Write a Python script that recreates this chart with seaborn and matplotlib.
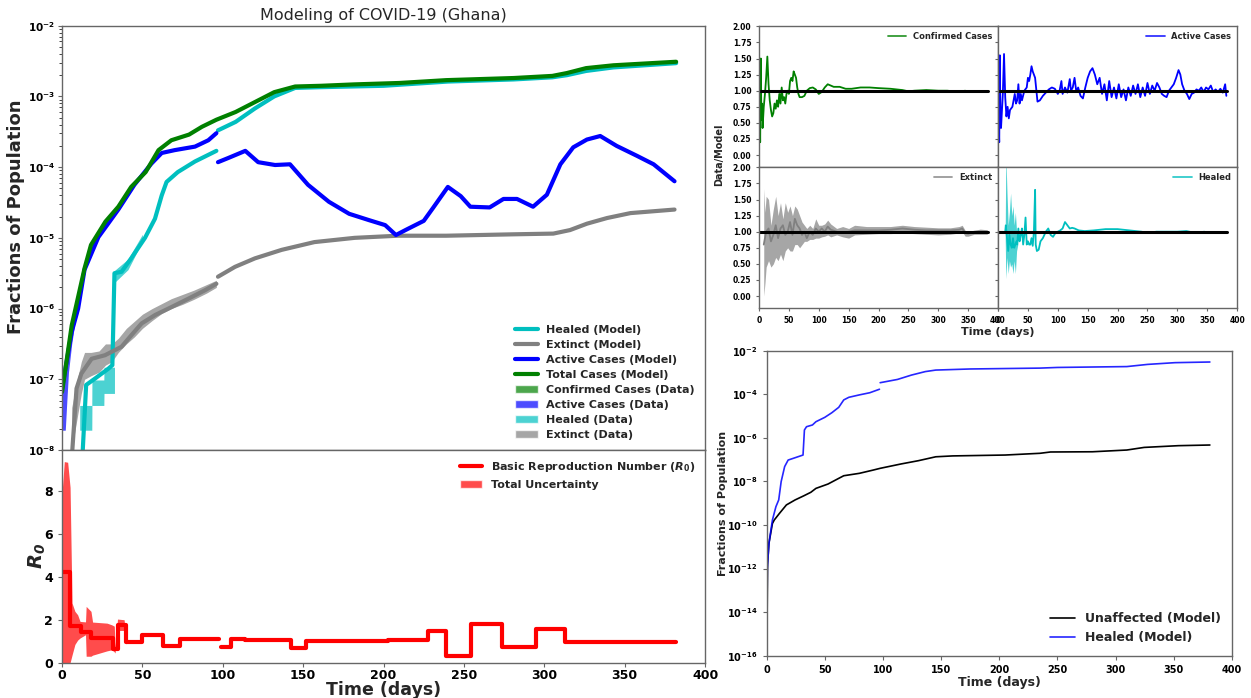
import numpy as np
import pandas as pd
import matplotlib
matplotlib.use("Agg")
import matplotlib.pyplot as plt
import matplotlib.ticker as mticker
from matplotlib.lines import Line2D
from matplotlib.patches import Patch
import seaborn as sns

sns.set_style("ticks")
plt.rcParams['font.family'] = ['DejaVu Sans']
plt.rcParams['font.weight'] = 'bold'
plt.rcParams['axes.labelweight'] = 'bold'
plt.rcParams['mathtext.fontset'] = 'dejavusans'

# ---------------- main panel (log10 of population fraction) ----------------
total_days = [0, 6, 14, 18, 27, 35, 43, 52, 60, 68, 79, 87, 96, 108, 120, 132, 145, 161, 182, 210,
              239, 281, 305, 314, 326, 343, 382]
total_log = [-7.18, -6.24, -5.43, -5.1, -4.77, -4.56, -4.28, -4.07, -3.76, -3.62, -3.54, -3.43, -3.33,
             -3.22, -3.08, -2.94, -2.86, -2.85, -2.83, -2.81, -2.77, -2.74, -2.71, -2.67, -2.6, -2.56, -2.51]

heal1_days = [11.5, 15, 20.5, 28.8, 31.3, 32.6, 37, 43, 51.6, 57.8, 62, 65, 72, 82.7, 96]
heal1_log = [-8.6, -7.08, -6.99, -6.85, -6.8, -5.5, -5.48, -5.29, -5.0, -4.73, -4.4, -4.21, -4.07, -3.92, -3.77]
heal2_days = [97, 108, 120, 132, 145, 160, 200, 240, 281, 305, 314, 326, 343, 382]
heal2_log = [-3.48, -3.36, -3.17, -3.0, -2.88, -2.87, -2.85, -2.79, -2.76, -2.73, -2.7, -2.64, -2.59, -2.53]

active1_days = [0, 6, 10, 14, 22.6, 35, 45, 55.6, 62, 70, 82.7, 91, 96]
active1_log = [-7.13, -6.33, -6.0, -5.45, -4.99, -4.6, -4.25, -3.95, -3.8, -3.76, -3.71, -3.62, -3.52]
active2_days = [97, 103.5, 114, 122, 132.5, 141.8, 153, 166, 178.6, 191, 201, 207.7, 214.5, 225, 231,
                240, 248, 254, 266, 274.6, 283, 293, 301.6, 310, 318, 326.5, 334.8, 345, 357.6, 368, 381]
active2_log = [-3.93, -3.87, -3.77, -3.93, -3.97, -3.96, -4.25, -4.49, -4.66, -4.75, -4.82, -4.96, -4.88,
               -4.76, -4.57, -4.28, -4.41, -4.56, -4.57, -4.45, -4.45, -4.56, -4.39, -3.96, -3.72, -3.61,
               -3.56, -3.7, -3.84, -3.96, -4.2]

ext1_days = [5.5, 9, 12, 18.4, 26.7, 37, 43, 49.5, 58, 68, 78.6, 89, 96]
ext1_log = [-8.3, -7.13, -6.92, -6.71, -6.66, -6.54, -6.38, -6.21, -6.09, -5.98, -5.86, -5.74, -5.65]
ext2_days = [97, 107.6, 120, 136.6, 157, 182, 209, 239, 281, 305.6, 316, 326.5, 339, 353.6, 381]
ext2_log = [-5.55, -5.41, -5.29, -5.17, -5.06, -5.0, -4.97, -4.97, -4.95, -4.94, -4.89, -4.8, -4.72, -4.65, -4.6]

# data uncertainty bands (log10)
act_band_days = [0, 1, 2, 3, 4, 6, 8, 10]
act_band_lo = [-7.72, -7.72, -7.72, -7.3, -6.9, -6.5, -6.2, -6.05]
act_band_hi = [-6.94, -6.94, -6.94, -6.8, -6.6, -6.3, -6.1, -5.95]
heal_band_days = [11, 18.5, 18.6, 26, 26.1, 32.6, 32.7, 41, 50]
heal_band_lo = [-7.72, -7.72, -7.37, -7.37, -7.2, -7.2, -5.63, -5.45, -5.05]
heal_band_hi = [-7.37, -7.37, -7.01, -7.01, -6.83, -6.83, -5.46, -5.3, -4.95]
ext_band_days = [6, 9, 12, 14, 18, 23, 27, 31, 35, 40, 45, 50, 56, 62, 68, 75, 82, 90, 96]
ext_band_lo = [-8.0, -7.6, -7.2, -7.0, -6.95, -6.9, -6.8, -6.75, -6.62, -6.5, -6.4, -6.28, -6.17, -6.07,
               -6.0, -5.94, -5.87, -5.78, -5.7]
ext_band_hi = [-7.4, -7.05, -6.75, -6.62, -6.62, -6.6, -6.5, -6.5, -6.42, -6.28, -6.18, -6.08, -6.0, -5.93,
               -5.86, -5.8, -5.74, -5.66, -5.6]

# ---------------- R0 ----------------
r0_days1 = [0, 5.2, 11.8, 18, 32, 34.8, 39.5, 49.5, 62.5, 73.5, 97.5]
r0_vals1 = [4.2, 1.7, 1.45, 1.14, 0.62, 1.76, 0.96, 1.29, 0.77, 1.12, 1.12]
r0_days2 = [99, 105, 114, 142.5, 152, 203, 227.5, 239, 254.5, 273.5, 295, 313, 345, 382]
r0_vals2 = [0.72, 1.1, 1.04, 0.7, 1.02, 1.05, 1.47, 0.31, 1.82, 0.71, 1.57, 0.94, 0.98, 0.98]
r0_band_days = [0, 1.4, 3.5, 5, 6.2, 8, 9.7, 11.2, 14.6, 15, 18, 19, 28, 31, 32.5, 33, 34.5, 38.6, 40]
r0_band_hi = [7.9, 9.36, 9.33, 8.16, 2.78, 2.39, 2.23, 1.92, 1.9, 2.62, 2.39, 1.89, 1.84, 1.76, 1.7, 0.75,
              2.03, 2.0, 1.06]
r0_band_lo = [0.0, 0.0, 0.0, 0.0, 0.35, 0.85, 1.05, 1.15, 1.3, 0.3, 0.3, 0.35, 0.55, 0.6, 0.5, 0.45,
              1.5, 1.5, 0.85]

# ---------------- Data/Model ratios ----------------
conf_days = [0, 1, 2, 3, 4, 5, 6, 8, 10, 12, 14, 16, 18, 20, 22, 24, 26, 28, 30, 32, 34, 36, 38, 40, 42,
             44, 46, 48, 50, 52, 54, 56, 58, 60, 62, 64, 66, 68, 72, 76, 80, 85, 90, 95, 100, 105, 110,
             115, 120, 125, 135, 145, 155, 170, 185, 200, 220, 240, 250, 260, 280, 300, 315, 325, 335, 345]
conf_ratio = [1.65, 0.9, 0.2, 1.5, 0.55, 0.8, 0.42, 0.75, 0.95, 1.2, 1.53, 1.1, 0.85, 0.7, 0.6, 0.65, 0.8,
              0.72, 0.85, 0.75, 0.95, 0.8, 1.05, 0.85, 0.9, 0.8, 0.95, 1.0, 0.95, 1.15, 1.2, 1.15, 1.3,
              1.25, 1.2, 1.05, 0.95, 0.9, 0.9, 0.92, 1.0, 1.04, 1.05, 1.02, 0.95, 0.98, 1.05, 1.1, 1.08,
              1.06, 1.06, 1.03, 1.03, 1.05, 1.05, 1.04, 1.03, 1.01, 0.99, 1.0, 1.01, 1.0, 1.0, 0.99, 0.98, 1.0]

act_days = [0, 1, 2, 3, 4, 5, 6, 8, 10, 12, 14, 16, 18, 20, 24, 28, 30, 32, 34, 36, 38, 40, 44, 48, 50,
            52, 54, 56, 58, 60, 62, 66, 70, 75, 80, 85, 90, 95, 100, 103, 106, 108, 112, 116, 120, 122,
            125, 128, 131, 134, 138, 142, 146, 150, 154, 158, 162, 166, 170, 174, 178, 182, 186, 190,
            194, 198, 202, 206, 210, 214, 218, 222, 226, 230, 234, 238, 242, 246, 250, 254, 258, 262,
            266, 270, 274, 278, 282, 286, 290, 294, 298, 302, 305, 308, 312, 316, 320, 324, 328, 332,
            336, 340, 344, 348, 352, 356, 360, 364, 368, 372, 376, 380, 382]
act_ratio = [1.65, 0.5, 0.2, 1.55, 0.5, 0.42, 0.6, 0.95, 1.57, 0.9,
             0.6, 0.75, 0.57, 0.7, 0.75, 0.95, 0.8, 0.85, 1.1, 0.8,
             0.95, 0.85, 1.0, 1.05, 1.2, 1.15, 1.25, 1.38, 1.3, 1.25,
             1.2, 0.83, 0.85, 0.92, 0.97, 1.02, 1.05, 1.03, 0.95, 1.0,
             1.15, 0.95, 1.05, 0.97, 1.18, 1.0, 1.05, 1.2, 0.98, 1.05,
             0.92, 0.88, 1.05, 1.2, 1.3, 1.35, 1.25, 1.1, 1.2, 0.95,
             1.1, 0.85, 1.15, 0.9, 1.05, 0.88, 1.1, 0.9, 1.02, 0.85,
             1.05, 0.92, 1.08, 0.95, 1.1, 0.9, 1.05, 0.92, 1.12, 0.95,
             1.08, 1.0, 1.12, 1.05, 0.95, 0.92, 0.9, 1.0, 1.05, 1.1,
             1.2, 1.32, 1.25, 1.1, 1.0, 0.95, 0.87, 0.95, 0.97, 1.02,
             1.0, 1.05, 0.98, 1.05, 1.02, 1.08, 0.98, 1.02, 0.98, 1.03,
             0.97, 1.1, 0.92]

ext_days = [8, 10, 12, 16, 20, 24, 28, 32, 36, 40, 44, 48, 52, 56, 60, 64, 68, 72, 76, 80, 85, 90, 95,
            100, 105, 110, 115, 120, 130, 140, 150, 160, 180, 200, 220, 240, 260, 280, 300, 320, 335,
            340, 345, 350, 360, 370, 382]
ext_mid = [0.8, 0.9, 1.0, 1.05, 0.85, 0.95, 1.1, 0.9, 1.05, 1.1, 0.95, 1.0, 1.15, 0.95, 1.2, 1.1, 1.05,
           0.95, 1.0, 0.9, 1.0, 0.95, 1.05, 1.0, 1.05, 1.0, 1.08, 1.03, 1.0, 0.98, 1.0, 1.02, 1.02, 1.02,
           1.03, 1.05, 1.03, 1.02, 1.02, 1.02, 1.03, 1.05, 0.98, 0.97, 1.0, 1.0, 1.0]
ext_lo = [0.0, 0.2, 0.45, 0.55, 0.45, 0.5, 0.6, 0.55, 0.65, 0.55, 0.7, 0.75, 0.7, 0.7, 0.8, 0.8, 0.75,
          0.8, 0.85, 0.85, 0.88, 0.88, 0.9, 0.9, 0.92, 0.93, 0.95, 0.92, 0.95, 0.92, 0.9, 0.95, 0.96,
          0.97, 0.97, 0.98, 0.97, 0.96, 0.95, 0.96, 0.98, 1.0, 0.93, 0.93, 0.96, 0.96, 0.96]
ext_hi = [1.67, 1.3, 1.55, 1.5, 1.1, 1.35, 1.55, 1.25, 1.45, 1.2, 1.45, 1.3, 1.4, 1.25, 1.4, 1.35, 1.25,
          1.15, 1.1, 1.05, 1.1, 1.05, 1.2, 1.1, 1.1, 1.12, 1.18, 1.12, 1.05, 1.08, 1.05, 1.1, 1.08, 1.08,
          1.08, 1.1, 1.08, 1.07, 1.06, 1.06, 1.08, 1.1, 1.02, 1.0, 1.02, 1.04, 1.03]

healr_days = [12, 13, 15, 17, 19, 21, 23, 25, 27, 29, 31, 32, 34, 36, 38, 40, 42, 44, 46, 48, 50, 52, 54,
              56, 58, 60, 62, 63, 65, 68, 71, 75, 80, 84, 88, 92, 96, 100, 104, 108, 112, 116, 120, 124,
              128, 135, 145, 160, 180, 200, 220, 240, 250, 265, 280, 300, 315, 325, 335, 345]
healr_ratio = [1.0, 1.1, 0.9, 0.7, 0.95, 0.8, 0.75, 0.9, 0.75, 0.8, 0.85, 0.8, 1.05, 0.85, 0.95, 1.05,
               0.8, 0.95, 1.22, 0.8, 0.85, 0.8, 0.8, 0.9, 0.78, 1.0, 1.65, 0.8, 0.7, 0.72, 0.85, 0.9, 1.0,
               1.05, 0.95, 0.92, 0.98, 1.0, 1.02, 1.05, 1.15, 1.1, 1.05, 1.06, 1.05, 1.02, 1.01, 1.02,
               1.04, 1.04, 1.02, 1.0, 0.98, 1.0, 1.0, 1.0, 1.01, 0.99, 0.98, 1.0]
healr_band_days = [12, 13, 15, 17, 19, 21, 23, 25, 27, 29, 31, 33]
healr_band_lo = [0.9, 0.27, 0.6, 0.35, 0.55, 0.45, 0.5, 0.35, 0.55, 0.35, 0.7, 0.8]
healr_band_hi = [1.0, 2.2, 1.6, 1.1, 1.3, 1.6, 1.25, 1.4, 1.1, 1.3, 1.0, 1.0]

# ---------------- bottom-right panel (log10) ----------------
br_heal1_days = [0, 0.6, 2, 5, 8, 10.4, 12.5, 15.5, 18.5, 23, 31.3, 32.5, 34.3, 39.4, 42.4, 50, 56, 62,
                 66.3, 70.7, 79.7, 88.7, 97]
br_heal1_log = [-17, -12, -10.84, -9.77, -9.16, -8.85, -8.01, -7.32, -7.02, -6.94, -6.79, -5.64, -5.49,
                -5.41, -5.26, -5.06, -4.85, -4.6, -4.26, -4.14, -4.03, -3.93, -3.77]
br_heal2_days = [97.6, 112.5, 124.5, 136.4, 145.4, 175, 235, 250, 309.6, 327.5, 351, 381]
br_heal2_log = [-3.47, -3.32, -3.12, -2.96, -2.89, -2.84, -2.8, -2.77, -2.73, -2.63, -2.55, -2.52]
br_unaff_days = [0, 0.8, 2, 5, 6.6, 11, 17, 24.5, 32, 38, 42.4, 52.8, 62, 66.3, 79.7, 91.6, 97.6, 115.5,
                 130.4, 145.4, 160, 205, 235, 244, 280, 309.6, 324.5, 354, 381]
br_unaff_log = [-17, -11.8, -10.84, -9.93, -9.77, -9.47, -9.08, -8.85, -8.66, -8.5, -8.32, -8.12, -7.86,
                -7.74, -7.63, -7.48, -7.4, -7.2, -7.05, -6.87, -6.83, -6.79, -6.71, -6.65, -6.64, -6.56,
                -6.44, -6.36, -6.33]

EDGE = '#666666'


def draw(ax, days, vals, **kw):
    sns.lineplot(x=days, y=vals, ax=ax, estimator=None, sort=False, legend=False, **kw)


def pw(v):
    return 10.0 ** np.array(v)


def logfmt(v, pos):
    return r'$\mathbf{10^{%d}}$' % int(round(np.log10(v)))


def style(ax, size):
    for s in ax.spines.values():
        s.set_color(EDGE)
        s.set_linewidth(1.0)
    ax.tick_params(labelsize=size, colors='black', length=3, width=0.8)
    ax.tick_params(axis='both', color=EDGE)


fig = plt.figure(figsize=(12.51, 6.98), dpi=100)

# ---------- main top panel ----------
ax = fig.add_axes([0.0496, 0.3553, 0.514, 0.6079])
ax.set_yscale('log')
ax.fill_between(act_band_days, pw(act_band_lo), pw(act_band_hi), color='blue', alpha=0.7, lw=0)
ax.fill_between(heal_band_days, pw(heal_band_lo), pw(heal_band_hi), color='c', alpha=0.7, lw=0)
ax.fill_between(ext_band_days, pw(ext_band_lo), pw(ext_band_hi), color='gray', alpha=0.7, lw=0)
draw(ax, heal1_days, pw(heal1_log), color='c', lw=3)
draw(ax, heal2_days, pw(heal2_log), color='c', lw=3)
draw(ax, ext1_days, pw(ext1_log), color='gray', lw=3)
draw(ax, ext2_days, pw(ext2_log), color='gray', lw=3)
draw(ax, active1_days, pw(active1_log), color='blue', lw=3)
draw(ax, active2_days, pw(active2_log), color='blue', lw=3)
draw(ax, total_days, pw(total_log), color='green', lw=3)
ax.set_xlim(0, 400)
ax.set_ylim(1e-8, 1e-2)
ax.yaxis.set_major_formatter(mticker.FuncFormatter(logfmt))
ax.tick_params(axis='x', bottom=False, labelbottom=False)
style(ax, 7.5)
ax.tick_params(axis='y', pad=2)
ax.set_ylabel('Fractions of Population', fontsize=13)
ax.yaxis.set_label_coords(-0.058, 0.55)
ax.set_xlabel('')
ax.set_title('Modeling of COVID-19 (Ghana)', fontsize=11.5, fontweight='normal', pad=4)
handles = [Line2D([], [], color='c', lw=3, label='Healed (Model)'),
           Line2D([], [], color='gray', lw=3, label='Extinct (Model)'),
           Line2D([], [], color='blue', lw=3, label='Active Cases (Model)'),
           Line2D([], [], color='green', lw=3, label='Total Cases (Model)'),
           Patch(facecolor='green', alpha=0.7, label='Confirmed Cases (Data)'),
           Patch(facecolor='blue', alpha=0.7, label='Active Cases (Data)'),
           Patch(facecolor='c', alpha=0.7, label='Healed (Data)'),
           Patch(facecolor='gray', alpha=0.7, label='Extinct (Data)')]
ax.legend(handles=handles, loc='lower right', frameon=False, fontsize=8, labelspacing=0.45)

# ---------- R0 panel ----------
ax = fig.add_axes([0.0496, 0.0506, 0.514, 0.3047])
ax.fill_between(r0_band_days, r0_band_lo, r0_band_hi, color='red', alpha=0.7, lw=0)
r0 = pd.DataFrame({'day': r0_days1 + r0_days2, 'R0': r0_vals1 + r0_vals2,
                   'seg': [1] * len(r0_days1) + [2] * len(r0_days2)})
sns.lineplot(data=r0, x='day', y='R0', units='seg', estimator=None, ax=ax, color='red', lw=3,
             drawstyle='steps-post', legend=False)
ax.set_xlim(0, 400)
ax.set_ylim(0, 9.9)
ax.set_xticks(range(0, 401, 50))
ax.set_yticks([0, 2, 4, 6, 8])
style(ax, 9)
ax.tick_params(axis='x', pad=1.5)
ax.set_xlabel('Time (days)', fontsize=12.5, labelpad=-1)
ax.set_ylabel(r'$\mathbfit{R_0}$', fontsize=14)
ax.yaxis.set_label_coords(-0.022, 0.5)
ax.legend(handles=[Line2D([], [], color='red', lw=3, label=r'Basic Reproduction Number ($R_0$)'),
                   Patch(facecolor='red', alpha=0.7, label='Total Uncertainty')],
          loc='upper right', frameon=False, fontsize=8)

# ---------- Data/Model grid ----------
L, W, B1, B2, H = 0.6067, 0.1911, 0.5583, 0.7603, 0.202
panels = [
    ([L, B2, W, H], conf_days, conf_ratio, 'green', 'Confirmed Cases', None),
    ([L + W, B2, W, H], act_days, act_ratio, 'blue', 'Active Cases', None),
    ([L, B1, W, H], ext_days, ext_mid, 'gray', 'Extinct', (ext_days, ext_lo, ext_hi)),
    ([L + W, B1, W, H], healr_days, healr_ratio, 'c', 'Healed',
     (healr_band_days, healr_band_lo, healr_band_hi)),
]
for i, (rect, d, r, col, lab, band) in enumerate(panels):
    a = fig.add_axes(rect)
    if band is not None:
        a.fill_between(band[0], band[1], band[2], color=col, alpha=0.7, lw=0)
    draw(a, d, r, color=col, lw=1.3)
    draw(a, [0, 383], [1.0, 1.0], color='black', lw=2.2)
    a.set_xlim(0, 400)
    a.set_ylim(-0.19, 2.0)
    a.set_xticks(range(0, 401, 50))
    a.set_yticks(np.arange(0, 2.01, 0.25))
    a.yaxis.set_major_formatter(mticker.FormatStrFormatter('%.2f'))
    style(a, 5.5)
    a.tick_params(length=2)
    if i < 2:
        a.tick_params(axis='x', bottom=False, labelbottom=False)
    if i % 2 == 1:
        a.tick_params(axis='y', labelleft=False)
    a.legend(handles=[Line2D([], [], color=col, lw=1.3, alpha=0.8, label=lab)], loc='upper right',
             frameon=False, fontsize=6, handlelength=2.2, borderaxespad=0.3)
fig.text(0.7978, 0.5244, 'Time (days)', ha='center', va='center', fontsize=8, fontweight='bold')
fig.text(0.5747, 0.778, 'Data/Model', ha='center', va='center', rotation=90, fontsize=7,
         fontweight='bold')

# ---------- bottom-right panel ----------
ax = fig.add_axes([0.6128, 0.0606, 0.372, 0.437])
ax.set_yscale('log')
draw(ax, br_unaff_days, pw(br_unaff_log), color='black', lw=1.2)
draw(ax, br_heal1_days, pw(br_heal1_log), color='blue', lw=1.2, alpha=0.85)
draw(ax, br_heal2_days, pw(br_heal2_log), color='blue', lw=1.2, alpha=0.85)
ax.set_xlim(0, 400)
ax.set_ylim(1e-16, 1e-2)
ax.set_xticks(range(0, 401, 50))
ax.set_yticks([10.0 ** k for k in range(-16, -1, 2)])
ax.yaxis.set_minor_locator(mticker.NullLocator())
ax.yaxis.set_major_formatter(mticker.FuncFormatter(logfmt))
style(ax, 7)
ax.set_xlabel('Time (days)', fontsize=9, labelpad=1)
ax.set_ylabel('Fractions of Population', fontsize=8)
ax.yaxis.set_label_coords(-0.084, 0.5)
ax.legend(handles=[Line2D([], [], color='black', lw=1.2, label='Unaffected (Model)'),
                   Line2D([], [], color='blue', lw=1.2, alpha=0.85, label='Healed (Model)')],
          loc='lower right', frameon=False, fontsize=9)

fig.savefig('out.png', dpi=100)
